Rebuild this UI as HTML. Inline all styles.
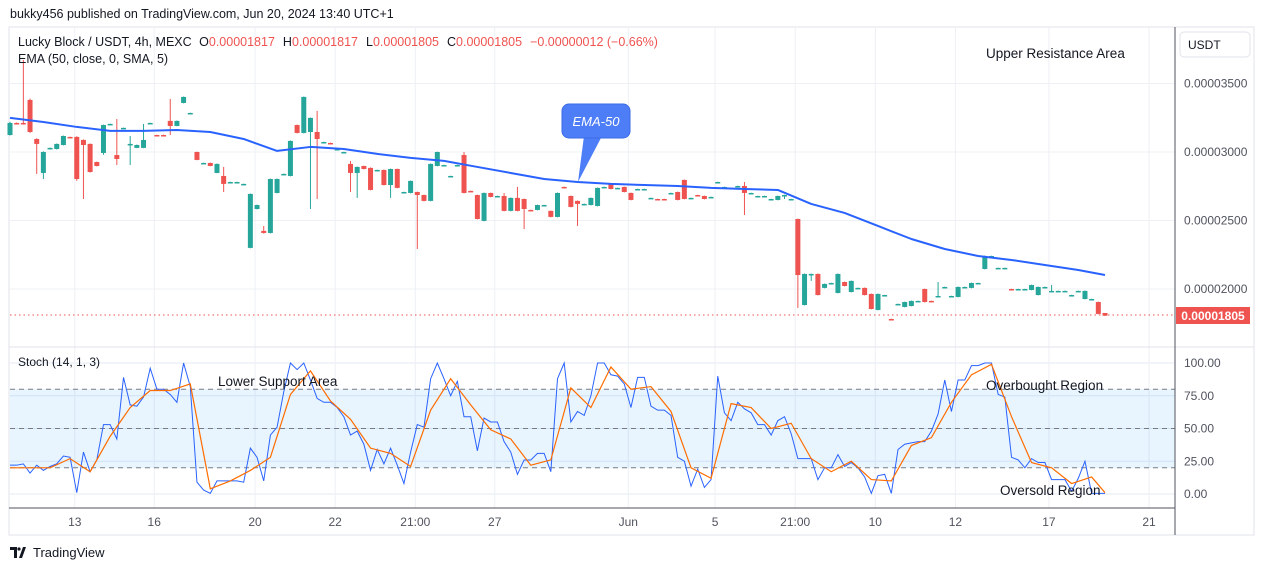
<!DOCTYPE html>
<html><head><meta charset="utf-8"><style>
body{margin:0;width:1265px;height:571px;background:#fff;overflow:hidden;font-family:"Liberation Sans",sans-serif}
svg{position:absolute;left:0;top:0}
</style></head><body>
<svg id="chart" width="1265" height="571" xmlns="http://www.w3.org/2000/svg" font-family="Liberation Sans, sans-serif">
<rect x="0" y="0" width="1265" height="571" fill="#fff"/>
<text x="10" y="18" font-size="12.5" fill="#131722">bukky456 published on TradingView.com, Jun 20, 2024 13:40 UTC+1</text>
<rect x="9" y="27" width="1245" height="508" fill="none" stroke="#e0e3eb"/>
<g id="grid"></g>
<rect x="10" y="389" width="1165" height="79" fill="rgba(33,150,243,0.1)"/>
<g id="stochGuides"></g>
<g id="candles"></g>
<g id="ema"></g>
<g id="stoch"></g>
<line x1="10" y1="315" x2="1175" y2="315" stroke="#ef5350" stroke-dasharray="1.5,3"/>
<line x1="9" y1="347" x2="1254" y2="347" stroke="#e0e3eb"/>
<line x1="1175" y1="27" x2="1175" y2="535" stroke="#50535e"/>
<line x1="9" y1="508" x2="1175" y2="508" stroke="#50535e"/>
<g id="axes" font-size="12" fill="#50535e"></g>
<rect x="1180" y="32" width="70" height="25" rx="4" fill="#fff" stroke="#e0e3eb"/>
<text x="1188" y="49" font-size="12" fill="#131722">USDT</text>
<rect x="1176" y="307" width="74" height="17" fill="#ef5350"/>
<text x="1213" y="320" font-size="12" font-weight="bold" fill="#fff" text-anchor="middle">0.00001805</text>
<text x="18" y="46" font-size="12.5" fill="#131722">Lucky Block / USDT, 4h, MEXC <tspan dx="4">O</tspan><tspan fill="#ef5350">0.00001817</tspan><tspan dx="8">H</tspan><tspan fill="#ef5350">0.00001817</tspan><tspan dx="8">L</tspan><tspan fill="#ef5350">0.00001805</tspan><tspan dx="8">C</tspan><tspan fill="#ef5350">0.00001805</tspan><tspan dx="8" fill="#ef5350">−0.00000012 (−0.66%)</tspan></text>
<text x="18" y="63" font-size="12.5" fill="#131722">EMA (50, close, 0, SMA, 5)</text>
<text x="986" y="58" font-size="13.5" fill="#131722">Upper Resistance Area</text>
<g>
<path d="M584,136 L578,182 L602,136 Z" fill="#4d7ef7"/>
<rect x="562" y="104" width="68" height="34" rx="7" fill="#4d7ef7" stroke="#3a6ae6"/>
<text x="596" y="126" font-size="13" font-style="italic" fill="#fff" text-anchor="middle">EMA-50</text>
</g>
<text x="18" y="366" font-size="12" fill="#131722">Stoch (14, 1, 3)</text>
<text x="218" y="386" font-size="13.5" fill="#131722">Lower Support Area</text>
<text x="986" y="390" font-size="13.5" fill="#131722">Overbought Region</text>
<text x="1000" y="495" font-size="13.5" fill="#131722">Oversold Region</text>
<g>
<path d="M10,547 h7 v11 h-3 v-8 h-4 Z M19,558 l4,-11 h3 l-4,11 Z" fill="#131722"/>
<circle cx="19" cy="549" r="1.6" fill="#131722"/>
<text x="33" y="557" font-size="13" fill="#131722">TradingView</text>
</g>
</svg>
<script>
// price data in units of 1e-8 USDT: [open, high, low, close]
const candles=[
[3124,3220,3120,3212],[3212,3215,3200,3205],[3212,3672,3200,3205],[3380,3390,3140,3146],[3095,3100,2840,3059],
[2847,3005,2803,3000],[3022,3032,3018,3030],[3022,3062,3018,3059],[3051,3120,3048,3117],[3110,3112,3100,3103],
[3110,3115,2790,2803],[3088,3092,2657,3051],[3059,3062,2850,2854],[2927,2930,2895,2898],[2993,3200,2980,3197],
[3200,3207,3198,3205],[2978,3241,2905,2949],[3170,3178,3168,3176],[3051,3117,2905,3059],[3030,3055,3028,3051],
[3030,3205,3028,3088],[3207,3214,3205,3212],[3124,3126,3115,3117],[3124,3126,3115,3117],[3227,3387,3124,3190],
[3190,3230,3188,3227],[3358,3405,3355,3402],[3280,3287,3278,3285],[3000,3003,2940,2942],[2915,2922,2913,2920],
[2920,2923,2896,2898],[2847,2916,2845,2913],[2825,2891,2708,2767],[2776,2783,2774,2781],[2776,2783,2774,2781],
[2762,2769,2760,2767],[2300,2697,2297,2694],[2584,2616,2581,2613],[2424,2460,2405,2409],[2409,2806,2405,2803],
[2701,2806,2698,2803],[2835,2842,2833,2840],[2825,3084,2822,3081],[3197,3200,3136,3139],[3139,3405,3136,3402],
[3146,3252,2584,3249],[3146,3300,2657,3095],[3068,3075,3066,3073],[3066,3068,3058,3060],[3017,3024,3015,3022],
[2995,3002,2993,3000],[2913,2935,2708,2847],[2847,2894,2665,2891],[2898,2900,2873,2876],[2884,2887,2720,2723],
[2864,2871,2862,2869],[2869,2872,2756,2759],[2759,2879,2665,2876],[2876,2879,2735,2738],[2703,2710,2701,2708],
[2701,2792,2698,2789],[2708,2711,2292,2686],[2686,2689,2640,2643],[2643,2916,2640,2913],[2898,3003,2895,3000],
[2900,2907,2898,2905],[2820,2827,2818,2825],[2900,2907,2898,2905],[2978,3000,2698,2701],[2716,2718,2708,2710],
[2686,2689,2508,2511],[2497,2704,2494,2701],[2701,2704,2669,2672],[2675,2681,2673,2679],[2679,2701,2567,2570],
[2570,2668,2567,2665],[2665,2745,2567,2570],[2657,2660,2438,2584],[2577,2579,2570,2572],[2577,2616,2574,2613],
[2610,2615,2608,2613],[2570,2573,2523,2526],[2526,2704,2523,2701],[2745,2747,2738,2740],[2679,2682,2596,2599],
[2643,2646,2460,2621],[2618,2623,2616,2621],[2613,2668,2610,2665],[2606,2741,2603,2738],[2740,2747,2738,2745],
[2767,2770,2727,2730],[2735,2740,2733,2738],[2745,2748,2705,2708],[2701,2704,2647,2650],[2726,2732,2724,2730],
[2726,2732,2724,2730],[2661,2667,2659,2665],[2657,2659,2650,2652],[2657,2659,2650,2652],[2697,2703,2695,2701],
[2708,2711,2647,2650],[2796,2799,2654,2657],[2661,2667,2659,2665],[2686,2688,2679,2681],[2679,2682,2654,2657],
[2668,2674,2666,2672],[2776,2783,2774,2781],[2740,2747,2738,2745],[2735,2740,2733,2738],[2748,2754,2746,2752],
[2752,2781,2540,2701],[2697,2703,2695,2701],[2675,2681,2673,2679],[2675,2681,2673,2679],[2654,2659,2652,2657],
[2650,2682,2647,2679],[2683,2688,2657,2686],[2654,2659,2652,2657],[2511,2514,1862,2102],[1883,2113,1880,2110],
[2106,2112,2059,2110],[2110,2113,1953,1956],[2008,2040,2005,2037],[2040,2046,2038,2044],[1971,2113,1968,2110],
[2051,2054,2019,2022],[1978,2062,1975,2059],[2004,2010,2002,2008],[2008,2011,1953,1956],[1964,1967,1851,1854],
[1847,1967,1844,1964],[1953,1958,1951,1956],[1781,1783,1774,1776],[1887,1893,1885,1891],[1869,1908,1866,1905],
[1876,1916,1873,1913],[1910,1915,1908,1913],[2000,2003,1902,1905],[1913,1915,1906,1908],[1945,2051,1943,1949],
[2011,2017,2009,2015],[1945,1951,1943,1949],[1942,2018,1939,2015],[2011,2017,2009,2015],[2008,2047,2005,2044],
[2040,2046,2038,2044],[2146,2244,2143,2241],[2238,2243,2236,2241],[2150,2156,2148,2154],[2150,2156,2148,2154],
[2000,2002,1994,1996],[1996,2002,1994,2000],[1996,2002,1994,2000],[1993,2032,1990,2029],[1956,2018,1953,2015],
[2011,2017,2009,2015],[1978,2029,1975,1986],[1982,1988,1980,1986],[1982,1988,1980,1986],[1953,1958,1951,1956],
[1982,1988,1980,1986],[1927,1989,1924,1986],[1924,1929,1922,1927],[1905,1908,1815,1818],[1825,1825,1803,1805]
];
const emaIndex=[0,5,10,15,20,25,30,35,40,45,50,55,60,65,70,75,80,85,90,95,100,105,110,115,120,125,130,135,140,145,150,155,160,164];
const emaValues=[3249,3219,3183,3154,3154,3161,3146,3095,3008,3037,3022,2986,2957,2935,2891,2847,2803,2781,2767,2759,2752,2738,2730,2723,2621,2555,2460,2365,2292,2241,2212,2175,2139,2102];
const stochK=[22,22,23,16,22,18,21,23,29,28,1,32,17,26,53,53,42,89,68,67,74,96,80,80,76,70,100,82,9,3,0.5,10,10,10,10,9,35,28,10,45,51,78,100,95,100,87,73,70,70,66,59,45,48,38,18,34,23,35,22,8,32,53,51,88,100,88,75,86,59,59,33,58,55,55,40,32,15,26,26,31,31,17,88,100,55,63,60,75,100,100,91,90,84,66,89,89,67,64,64,60,28,25,6,19,5,11,90,62,56,70,65,62,53,53,45,56,59,46,27,27,27,11,20,20,30,21,24,20,13,0.5,14,15,0.5,34,38,39,40,40,48,61,87,63,87,87,98,98,100,100,76,74,28,26,20,27,24,24,11,11,11,2,12,25,0.5,0.5,0.5];
const stochDIndex=[0,3,6,9,12,15,18,21,24,27,30,33,36,39,42,45,48,51,54,57,60,63,66,69,72,75,78,81,84,87,90,93,96,99,102,105,108,111,114,117,120,123,126,129,132,135,138,141,144,147,150,153,156,159,162,164];
const stochD=[20,20,20,27,17,44,66,79,79,84,4,10,18,28,76,94,71,57,35,31,21,64,88,68,49,42,22,26,81,66,97,80,82,63,20,12,69,66,50,54,27,17,25,11,10,37,43,70,91,99,59,24,20,8,13,1];
const priceTicks=[3500,3000,2500,2000];
const priceTickLabels=["0.00003500","0.00003000","0.00002500","0.00002000"];
const stochTicks=[100,75,50,25,0];
const stochTickLabels=["100.00","75.00","50.00","25.00","0.00"];
const timeTickPos=[9.7,21.6,36.7,48.7,60.7,72.6,92.6,105.6,117.6,129.6,141.6,155.6,170.6];
const timeTickLabels=["13","16","20","22","21:00","27","Jun","5","21:00","10","12","17","21"];

const NS="http://www.w3.org/2000/svg";
const N=candles.length;
const xOf=i=>10+i*(1095/(N-1));
const yP=v=>152-(v-3000)*0.137;
const yS=v=>494-v*1.31;
function mk(tag,attrs,parent){const e=document.createElementNS(NS,tag);for(const k in attrs)e.setAttribute(k,attrs[k]);parent.appendChild(e);return e;}
const grid=document.getElementById('grid');
priceTicks.forEach(v=>{const l=mk('line',{x1:10,x2:1175,y1:yP(v),y2:yP(v),stroke:'#edf0f5'},grid);

});
stochTicks.forEach(v=>{const l=mk('line',{x1:10,x2:1175,y1:yS(v),y2:yS(v),stroke:'#e3ebf5'},grid);

});
timeTickPos.forEach(p=>{const x=xOf(p);const l=mk('line',{x1:x,x2:x,y1:27,y2:508,stroke:'#edf0f5'},grid);

});
const sg=document.getElementById('stochGuides');
[80,50,20].forEach(v=>{const l=mk('line',{x1:10,x2:1175,y1:yS(v),y2:yS(v),stroke:'#787b86','stroke-dasharray':'5,4'},sg);

});
const cg=document.getElementById('candles');
candles.forEach((c,i)=>{const [o,h,l,cl]=c;const up=cl>=o;const col=up?'#26a69a':'#ef5350';const x=xOf(i);
const w=mk('line',{x1:x,x2:x,y1:yP(h),y2:yP(l),stroke:col,'stroke-width':1},cg);


const t=Math.min(yP(o),yP(cl));const hh=Math.max(1.5,Math.abs(yP(o)-yP(cl)));
const b=mk('rect',{x:x-2.5,y:t,width:5,height:hh,fill:col},cg);

});
const eg=document.getElementById('ema');
const ep=mk('polyline',{points:emaIndex.map((k,j)=>xOf(k)+','+yP(emaValues[j])).join(' '),fill:'none',stroke:'#2962ff','stroke-width':2,'stroke-linejoin':'round'},eg);


const st=document.getElementById('stoch');
const kp=mk('polyline',{points:stochK.map((v,i)=>xOf(i)+','+yS(v)).join(' '),fill:'none',stroke:'#2962ff','stroke-width':1},st);


const dp=mk('polyline',{points:stochDIndex.map((k,j)=>xOf(k)+','+yS(stochD[j])).join(' '),fill:'none',stroke:'#ff6d00','stroke-width':1.2},st);


const ax=document.getElementById('axes');
priceTicks.forEach((v,j)=>{const t=mk('text',{x:1184,y:yP(v)+4},ax);t.textContent=priceTickLabels[j];

});
stochTicks.forEach((v,j)=>{const t=mk('text',{x:1184,y:yS(v)+4},ax);t.textContent=stochTickLabels[j];

});
timeTickPos.forEach((p,j)=>{const t=mk('text',{x:xOf(p),y:526,'text-anchor':'middle'},ax);t.textContent=timeTickLabels[j];

});
</script>
</body></html>
